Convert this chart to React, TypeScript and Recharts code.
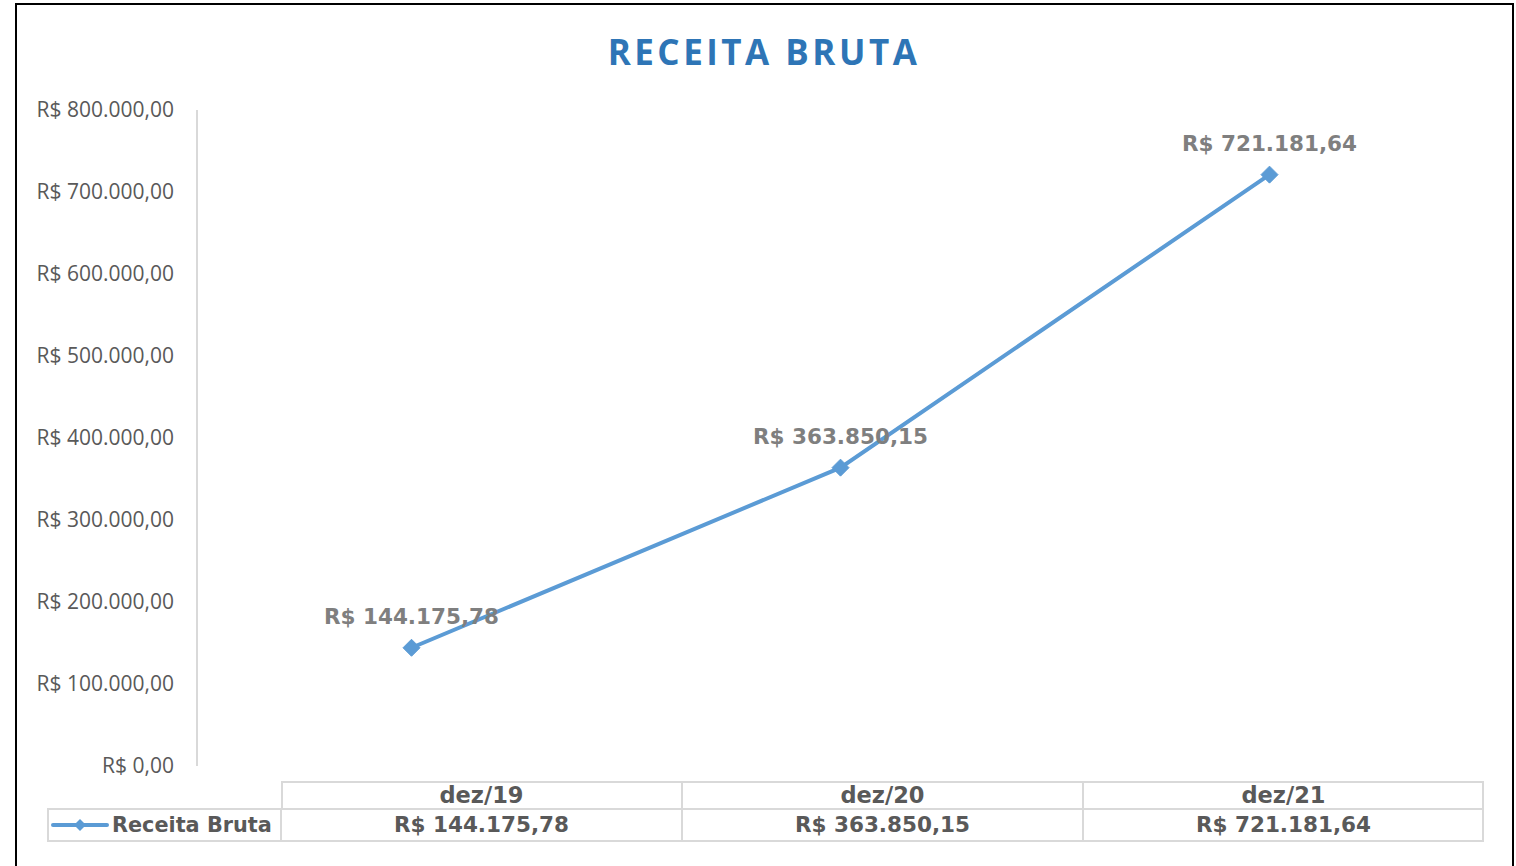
import React from "react";
import { LineChart, Line, XAxis, YAxis } from "recharts";

const categories = ["dez/19", "dez/20", "dez/21"];
const receitaBruta = [144175.78, 363850.15, 721181.64];
const yTicks = [0, 100000, 200000, 300000, 400000, 500000, 600000, 700000, 800000];
const seriesName = "Receita Bruta";
const chartTitle = "RECEITA BRUTA";

const data = categories.map((c, i) => ({ cat: c, value: receitaBruta[i] }));

function fmtBRL(v: number): string {
  const [intPart, dec] = v.toFixed(2).split(".");
  const withDots = intPart.replace(/\B(?=(\d{3})+(?!\d))/g, ".");
  return "R$ " + withDots + "," + dec;
}

const BLUE = "#5b9bd5";
const GRID = "#d9d9d9";
const TXT = "#595959";

const Diamond = (props: any) => {
  const { cx, cy } = props;
  if (cx == null || cy == null) return null;
  const s = 8.5;
  return (
    <path
      d={`M${cx},${cy - s} L${cx + s},${cy} L${cx},${cy + s} L${cx - s},${cy} Z`}
      fill={BLUE}
      stroke={BLUE}
      strokeWidth={1}
    />
  );
};

const tableFont: React.CSSProperties = {
  fontFamily: "'DejaVu Sans', Verdana, sans-serif",
  fontWeight: "bold",
  fontSize: 21.5,
  color: TXT,
};

export default function App() {
  const tableLeft = 281;
  const colW = 401;
  const headTop = 781;
  const rowTop = 808;
  const rowBottom = 842;
  const labelLeft = 47;
  const border = `2px solid ${GRID}`;

  return (
    <div
      style={{
        position: "absolute",
        left: 0,
        top: 0,
        width: 1516,
        height: 866,
        overflow: "hidden",
        background: "#fff",
      }}
    >
      <div
        style={{
          position: "absolute",
          left: 15,
          top: 3,
          width: 1499,
          height: 900,
          border: "2px solid #000",
          boxSizing: "border-box",
        }}
      />
      <div
        style={{
          position: "absolute",
          left: 0,
          top: 28,
          width: 1528,
          textAlign: "center",
          fontFamily: "'Open Sans', sans-serif",
          fontWeight: "bold",
          fontSize: 35,
          letterSpacing: 3.5,
          color: "#2e75b6",
          lineHeight: "48px",
        }}
      >
        {chartTitle}
      </div>
      <div style={{ position: "absolute", left: 0, top: 0 }}>
        <LineChart
          width={1516}
          height={866}
          data={data}
          margin={{ top: 110, right: 32, bottom: 100, left: 0 }}
        >
          <XAxis dataKey="cat" hide scale="band" />
          <YAxis
            width={197}
            domain={[0, 800000]}
            ticks={yTicks}
            tickFormatter={(v: number) => fmtBRL(v)}
            tickLine={false}
            axisLine={{ stroke: GRID, strokeWidth: 2 }}
            tickMargin={17}
            tick={{
              fill: TXT,
              fontSize: 21,
              fontFamily: "'Open Sans', sans-serif",
            }}
          />
          <Line
            dataKey="value"
            name={seriesName}
            stroke={BLUE}
            strokeWidth={4}
            dot={<Diamond />}
            activeDot={false}
            isAnimationActive={false}
            label={{
              position: "top",
              offset: 24,
              fill: "#7f7f7f",
              fontSize: 21.5,
              fontWeight: "bold",
              fontFamily: "'DejaVu Sans', Verdana, sans-serif",
              formatter: (v: any) => fmtBRL(Number(v)),
            }}
          />
        </LineChart>
      </div>
      {/* data table */}
      <div
        style={{
          position: "absolute",
          left: tableLeft,
          top: headTop,
          width: colW * categories.length,
          height: rowTop - headTop,
          borderTop: border,
          borderLeft: border,
          borderRight: border,
          boxSizing: "border-box",
        }}
      />
      <div
        style={{
          position: "absolute",
          left: labelLeft,
          top: rowTop,
          width: tableLeft + colW * categories.length - labelLeft,
          height: rowBottom - rowTop,
          border: border,
          boxSizing: "border-box",
        }}
      />
      <div
        style={{
          position: "absolute",
          left: tableLeft - 1,
          top: rowTop,
          width: 2,
          height: rowBottom - rowTop,
          background: GRID,
        }}
      />
      {categories.map((c, i) => (
        <React.Fragment key={c}>
          {i > 0 && (
            <div
              style={{
                position: "absolute",
                left: tableLeft + colW * i - 1,
                top: headTop,
                width: 2,
                height: rowBottom - headTop,
                background: GRID,
              }}
            />
          )}
          <div
            style={{
              ...tableFont,
              position: "absolute",
              left: tableLeft + colW * i,
              top: headTop,
              width: colW,
              height: rowTop - headTop,
              lineHeight: `${rowTop - headTop + 2}px`,
              textAlign: "center",
              fontSize: 22.5,
            }}
          >
            {c}
          </div>
          <div
            style={{
              ...tableFont,
              position: "absolute",
              left: tableLeft + colW * i,
              top: rowTop,
              width: colW,
              height: rowBottom - rowTop,
              lineHeight: `${rowBottom - rowTop}px`,
              textAlign: "center",
            }}
          >
            {fmtBRL(receitaBruta[i])}
          </div>
        </React.Fragment>
      ))}
      <svg
        style={{ position: "absolute", left: labelLeft, top: rowTop }}
        width={66}
        height={rowBottom - rowTop}
      >
        <line x1={6} y1={17} x2={60} y2={17} stroke={BLUE} strokeWidth={4} strokeLinecap="round" />
        <path d="M33,11 L39,17 L33,23 L27,17 Z" fill={BLUE} />
      </svg>
      <div
        style={{
          ...tableFont,
          position: "absolute",
          left: 112,
          top: rowTop,
          height: rowBottom - rowTop,
          lineHeight: `${rowBottom - rowTop}px`,
          fontSize: 20.8,
        }}
      >
        {seriesName}
      </div>
    </div>
  );
}
